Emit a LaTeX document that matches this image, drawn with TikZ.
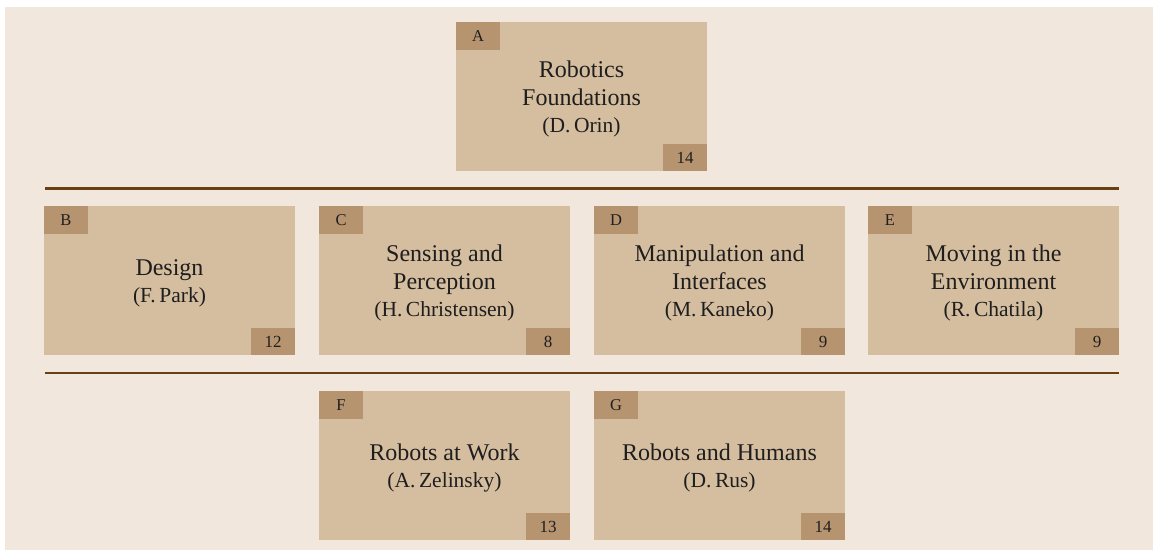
\documentclass[tikz,border=0pt]{standalone}
\usepackage{fontspec}
\setmainfont{Liberation Serif}
\definecolor{bgc}{HTML}{F1E7DD}
\definecolor{boxc}{HTML}{D5BD9F}
\definecolor{tabc}{HTML}{B69470}
\definecolor{linec}{HTML}{6B4010}
\definecolor{txtc}{HTML}{1E1E1E}
\tikzset{
  partbox/.style={fill=boxc, draw=none, minimum width=251pt, minimum height=149pt,
    inner sep=0pt},
  parttext/.style={inner sep=0pt, align=center, text=txtc, yshift=-2.5pt,
    font=\fontsize{24}{28}\selectfont},
  lettertab/.style={fill=tabc, draw=none, minimum width=44pt, minimum height=28pt,
    inner sep=0pt, text=txtc, font=\fontsize{16.5}{18}\selectfont, anchor=north west},
  numtab/.style={fill=tabc, draw=none, minimum width=44pt, minimum height=27pt,
    inner sep=0pt, text=txtc, font=\fontsize{17}{18}\selectfont, anchor=south east},
  sepline/.style={draw=linec, line width=2.5pt}
}
\newcommand{\auth}[1]{\\[-1pt]{\fontsize{21.5}{27}\selectfont #1}}
\begin{document}
\begin{tikzpicture}[x=1pt,y=-1pt]
\useasboundingbox (0,0) rectangle (1153,550);
\fill[white] (0,0) rectangle (1153,550);
\fill[bgc] (5,7) rectangle (1153,550);
% boxes
\node[partbox] (A) at (581.5,96.5) {};
\node[partbox] (B) at (169.5,280.5) {};
\node[partbox] (C) at (444.5,280.5) {};
\node[partbox] (D) at (719.5,280.5) {};
\node[partbox] (E) at (993.5,280.5) {};
\node[partbox] (F) at (444.5,465.5) {};
\node[partbox] (G) at (719.5,465.5) {};
% texts
\node[parttext] (A-text) at (A.center) {Robotics\\Foundations\auth{(D.\,Orin)}};
\node[parttext] (B-text) at (B.center) {Design\auth{(F.\,Park)}};
\node[parttext] (C-text) at (C.center) {Sensing and\\Perception\auth{(H.\,Christensen)}};
\node[parttext] (D-text) at (D.center) {Manipulation and\\Interfaces\auth{(M.\,Kaneko)}};
\node[parttext] (E-text) at (E.center) {Moving in the\\Environment\auth{(R.\,Chatila)}};
\node[parttext] (F-text) at (F.center) {Robots at Work\auth{(A.\,Zelinsky)}};
\node[parttext] (G-text) at (G.center) {Robots and Humans\auth{(D.\,Rus)}};
% tabs
\foreach \n in {A,B,C,D,E,F,G}{
  \node[lettertab] (\n-tab) at (\n.north west) {\n};
}
\node[numtab] (A-num) at (A.south east) {14};
\node[numtab] (B-num) at (B.south east) {12};
\node[numtab] (C-num) at (C.south east) {8};
\node[numtab] (D-num) at (D.south east) {9};
\node[numtab] (E-num) at (E.south east) {9};
\node[numtab] (F-num) at (F.south east) {13};
\node[numtab] (G-num) at (G.south east) {14};
% separator lines
\coordinate (l1a) at (45,188.5);
\coordinate (l1b) at (1119,188.5);
\coordinate (l2a) at (45,373);
\coordinate (l2b) at (1119,373);
\draw[sepline] (l1a) -- (l1b);
\draw[sepline] (l2a) -- (l2b);
\end{tikzpicture}
\end{document}
